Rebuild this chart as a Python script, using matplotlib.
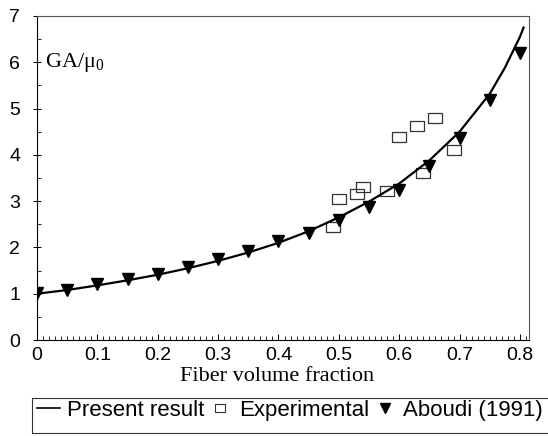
import matplotlib
matplotlib.use("Agg")
import matplotlib.pyplot as plt
from matplotlib.lines import Line2D
from matplotlib.patches import Rectangle
from matplotlib.ticker import MultipleLocator

plt.rcParams["font.family"] = ["Liberation Sans", "DejaVu Sans"]

# present result (curve)
curve_x = [0, 0.05, 0.1, 0.15, 0.2, 0.25, 0.3, 0.35, 0.4, 0.45, 0.5, 0.55,
           0.6, 0.65, 0.7, 0.75, 0.775, 0.8, 0.806]
curve_y = [1.0, 1.08, 1.18, 1.29, 1.41, 1.55, 1.71, 1.89, 2.1, 2.35, 2.65, 2.99,
           3.38, 3.88, 4.5, 5.32, 5.88, 6.55, 6.75]

# experimental
exp_x = [0.49, 0.50, 0.53, 0.54, 0.58, 0.60, 0.63, 0.64, 0.66, 0.69]
exp_y = [2.44, 3.05, 3.16, 3.31, 3.22, 4.38, 4.62, 3.60, 4.80, 4.10]

# Aboudi (1991)
abo_x = [0, 0.05, 0.1, 0.15, 0.2, 0.25, 0.3, 0.35, 0.4, 0.45, 0.5, 0.55,
         0.6, 0.65, 0.7, 0.75, 0.8]
abo_y = [1.01, 1.09, 1.2, 1.31, 1.42, 1.57, 1.74, 1.93, 2.13, 2.32, 2.59, 2.88,
         3.25, 3.75, 4.36, 5.19, 6.21]

x_ticks = [0, 0.1, 0.2, 0.3, 0.4, 0.5, 0.6, 0.7, 0.8]
x_labels = ["0", "0.1", "0.2", "0.3", "0.4", "0.5", "0.6", "0.7", "0.8"]
y_ticks = [0, 1, 2, 3, 4, 5, 6, 7]

rect_marker = [(-1.3, -1), (1.3, -1), (1.3, 1), (-1.3, 1), (-1.3, -1)]

W, H = 548, 436
fig = plt.figure(figsize=(W / 100, H / 100), dpi=100)
ax = fig.add_axes([37 / W, 1 - 340 / H, 492 / W, 324 / H])

ax.plot(curve_x, curve_y, color="black", lw=1.6, zorder=3)
ax.plot(exp_x, exp_y, ls="none", marker=rect_marker, ms=9.5,
        mfc="none", mec="#333333", mew=0.9, zorder=2)
ax.plot(abo_x, abo_y, ls="none", marker="v", ms=8.5,
        color="black", zorder=4)

ax.set_xlim(0, 0.815)
ax.set_ylim(0, 7)
ax.set_xticks(x_ticks)
ax.set_xticklabels(x_labels)
ax.set_yticks(y_ticks)
ax.xaxis.set_minor_locator(MultipleLocator(0.01))
ax.yaxis.set_minor_locator(MultipleLocator(0.5))

ax.tick_params(axis="x", which="major", direction="in", length=4, width=0.7,
               labelsize=14, pad=5)
ax.tick_params(axis="x", which="minor", direction="in", length=3, width=0.6)
ax.tick_params(axis="y", which="major", direction="inout", length=6, width=0.7,
               labelsize=14, pad=9)
ax.tick_params(axis="y", which="minor", direction="in", length=3, width=0.6)

for side in ["left", "bottom"]:
    ax.spines[side].set_linewidth(0.8)
for side in ["top", "right"]:
    ax.spines[side].set_linewidth(0.8)
    ax.spines[side].set_color("#555555")

ax.text(0.013, 5.89, r"$\mathregular{GA/μ_0}$", fontsize=16,
        family=["Liberation Serif", "DejaVu Serif"], ha="left", va="baseline")

fig.text(277 / W, 1 - 381 / H, "Fiber volume fraction", fontsize=16,
         family=["Liberation Serif", "DejaVu Serif"], ha="center", va="baseline")

# legend box
fig.patches.append(Rectangle((32 / W, 1 - 433 / H), 0.99, 35 / H,
                             transform=fig.transFigure, fill=False,
                             edgecolor="#333333", lw=0.8))

handles = [
    Line2D([], [], color="black", lw=1.2),
    Line2D([], [], ls="none", marker=rect_marker, ms=7.5, mfc="none",
           mec="#333333", mew=0.8),
    Line2D([], [], ls="none", marker="v", ms=7, color="black"),
]
fig.legend(handles, ["Present result", "Experimental", "Aboudi (1991)"],
           loc="center left", bbox_to_anchor=(37 / W, 1 - 410 / H),
           ncol=3, frameon=False, fontsize=16, handlelength=1.05,
           handletextpad=0.3, columnspacing=0.2, borderpad=0, borderaxespad=0)

fig.savefig("out.png", dpi=100)
